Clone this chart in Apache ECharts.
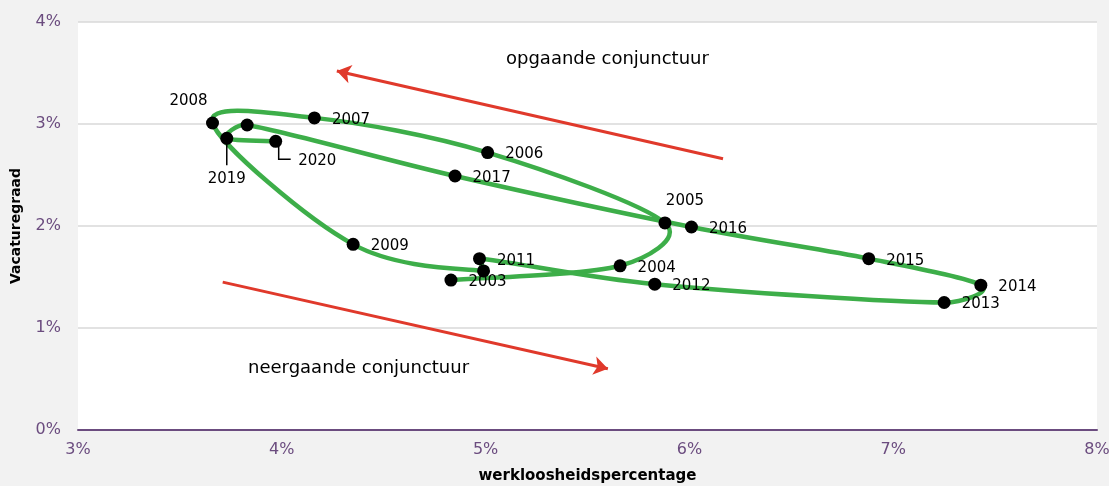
<!DOCTYPE html>
<html>
<head>
<meta charset="utf-8">
<script src="https://cdn.jsdelivr.net/npm/echarts@6/dist/echarts.min.js"></script>
<style>
  html, body { margin: 0; padding: 0; background: #f2f2f2; }
  #chart { width: 1109px; height: 486px; }
</style>
</head>
<body>
<div id="chart"></div>
<script>
// jaren en waarden
var years = [2003, 2004, 2005, 2006, 2007, 2008, 2009, 2010, 2011, 2012, 2013, 2014, 2015, 2016, 2017, 2018, 2019, 2020];
var werkloosheid = [4.83, 5.66, 5.88, 5.01, 4.16, 3.66, 4.35, 4.99, 4.97, 5.83, 7.25, 7.43, 6.88, 6.01, 4.85, 3.83, 3.73, 3.97];
var vacaturegraad = [1.47, 1.61, 2.03, 2.72, 3.06, 3.01, 1.82, 1.56, 1.68, 1.43, 1.25, 1.42, 1.68, 1.99, 2.49, 2.99, 2.86, 2.83];
var xTicks = [3, 4, 5, 6, 7, 8];
var yTicks = [0, 1, 2, 3, 4];
// pijlen: [start, eind] in (werkloosheid, vacaturegraad)
var pijlOp = [[6.165, 2.66], [4.27, 3.52]];
var pijlNeer = [[3.71, 1.45], [5.60, 0.60]];

var paars = '#6b4c7f';
var groen = '#3dae49';
var font = 'DejaVu Sans';

// labels die anders staan dan rechts van het punt
var labelPositie = {
    2005: { position: 'top', distance: 8 },
    2008: { position: 'top', distance: 8 },
    2010: { show: false },
    2018: { show: false },
    2019: { position: 'bottom', distance: 25 }
};
// verschuiving [dx, dy] van het label in pixels
var labelVerschuiving = {
    2005: [20, 0],
    2008: [-24, 0],
    2019: [0, 2],
    2020: [5, 20]
};
// verbindingslijntjes naar het label, in pixels t.o.v. het punt
var labelLijn = {
    2019: [[0, 0], [0, 27]],
    2020: [[3, 0], [3, 18], [15, 18]]
};

var punten = [];
for (let i = 0; i < years.length; i++) {
    let item = { value: [werkloosheid[i], vacaturegraad[i]], name: String(years[i]) };
    if (labelPositie[years[i]]) {
        item.label = labelPositie[years[i]];
    }
    punten.push(item);
}

// vloeiende lijn zoals in Excel: bezier-stukken (Catmull-Rom 1/6),
// arm van een controlepunt hooguit 0.4 x lengte van het stuk
var maxArm = 0.4;
function renderCurve(params, api) {
    var i = params.dataIndex;
    var n = years.length;
    var p = function (k) {
        k = Math.max(0, Math.min(n - 1, k));
        return api.coord([werkloosheid[k], vacaturegraad[k]]);
    };
    var len = function (u) { return Math.sqrt(u[0] * u[0] + u[1] * u[1]); };
    var arm = function (u, lim) {
        var v = [u[0] / 6, u[1] / 6];
        var l = len(v);
        if (l > lim && l > 0) {
            v = [v[0] * lim / l, v[1] * lim / l];
        }
        return v;
    };
    var children = [];
    if (i < n - 1) {
        var a = p(i - 1), b = p(i), c = p(i + 1), d = p(i + 2);
        var seg = len([c[0] - b[0], c[1] - b[1]]);
        var t1 = arm([c[0] - a[0], c[1] - a[1]], seg * maxArm);
        var t2 = arm([d[0] - b[0], d[1] - b[1]], seg * maxArm);
        children.push({
            type: 'bezierCurve',
            shape: {
                x1: b[0], y1: b[1],
                x2: c[0], y2: c[1],
                cpx1: b[0] + t1[0], cpy1: b[1] + t1[1],
                cpx2: c[0] - t2[0], cpy2: c[1] - t2[1]
            },
            style: { stroke: groen, lineWidth: 4.5, fill: null, lineCap: 'round' }
        });
    }
    var lijn = labelLijn[years[i]];
    if (lijn) {
        var q = p(i);
        children.push({
            type: 'polyline',
            shape: { points: lijn.map(function (o) { return [q[0] + o[0], q[1] + o[1]]; }) },
            style: { stroke: '#000', lineWidth: 1.5, fill: null },
            z2: 10
        });
    }
    return { type: 'group', children: children };
}

var chart = echarts.init(document.getElementById('chart'));

var option = {
    backgroundColor: '#f2f2f2',
    animation: false,
    textStyle: { fontFamily: font },
    grid: {
        left: 78, right: 12, top: 22, bottom: 56,
        containLabel: false,
        outerBoundsMode: 'none',
        show: true, backgroundColor: '#ffffff', borderWidth: 0
    },
    xAxis: {
        type: 'value',
        min: xTicks[0],
        max: xTicks[xTicks.length - 1],
        interval: 1,
        name: 'werkloosheidspercentage',
        nameLocation: 'middle',
        nameGap: 39,
        nameTextStyle: { color: '#000', fontWeight: 'bold', fontSize: 15, fontFamily: font },
        axisLine: { lineStyle: { color: paars, width: 2 } },
        axisTick: { show: false },
        splitLine: { show: false },
        axisLabel: { color: paars, fontSize: 16, margin: 12, formatter: function (v) { return v + '%'; } }
    },
    yAxis: {
        type: 'value',
        min: yTicks[0],
        max: yTicks[yTicks.length - 1],
        interval: 1,
        name: 'Vacaturegraad',
        nameLocation: 'middle',
        nameGap: 55,
        nameTextStyle: { color: '#000', fontWeight: 'bold', fontSize: 14, fontFamily: font },
        axisLine: { show: false },
        axisTick: { show: false },
        splitLine: { lineStyle: { color: '#d9d9d9', width: 1.5 } },
        axisLabel: { color: paars, fontSize: 16, margin: 17, formatter: function (v) { return v + '%'; } }
    },
    series: [
        {
            type: 'custom',
            data: punten.map(function (it) { return it.value; }),
            encode: { x: 0, y: 1 },
            renderItem: renderCurve,
            silent: true,
            z: 2
        },
        {
            type: 'scatter',
            data: punten,
            symbol: 'circle',
            symbolSize: 13,
            itemStyle: { color: '#000', opacity: 1 },
            label: {
                show: true,
                position: 'right',
                distance: 11,
                color: '#000',
                fontSize: 15,
                fontFamily: font,
                formatter: function (p) { return p.name; }
            },
            labelLayout: function (params) {
                var v = labelVerschuiving[years[params.dataIndex]] || [0, 2];
                return { dx: v[0], dy: v[1] };
            },
            z: 3
        },
        {
            type: 'line',
            data: [],
            silent: true,
            markLine: {
                silent: true,
                symbol: ['none', 'arrow'],
                symbolSize: 14,
                label: { show: false },
                lineStyle: { color: '#e0392b', width: 3, type: 'solid' },
                data: [
                    [{ coord: pijlOp[0] }, { coord: pijlOp[1] }],
                    [{ coord: pijlNeer[0] }, { coord: pijlNeer[1] }]
                ]
            }
        }
    ],
    graphic: [
        {
            type: 'text', left: 506, top: 50,
            style: { text: 'opgaande conjunctuur', fill: '#000', font: '18px "DejaVu Sans"' }
        },
        {
            type: 'text', left: 248, top: 359,
            style: { text: 'neergaande conjunctuur', fill: '#000', font: '18px "DejaVu Sans"' }
        }
    ]
};

chart.setOption(option);
</script>
</body>
</html>
